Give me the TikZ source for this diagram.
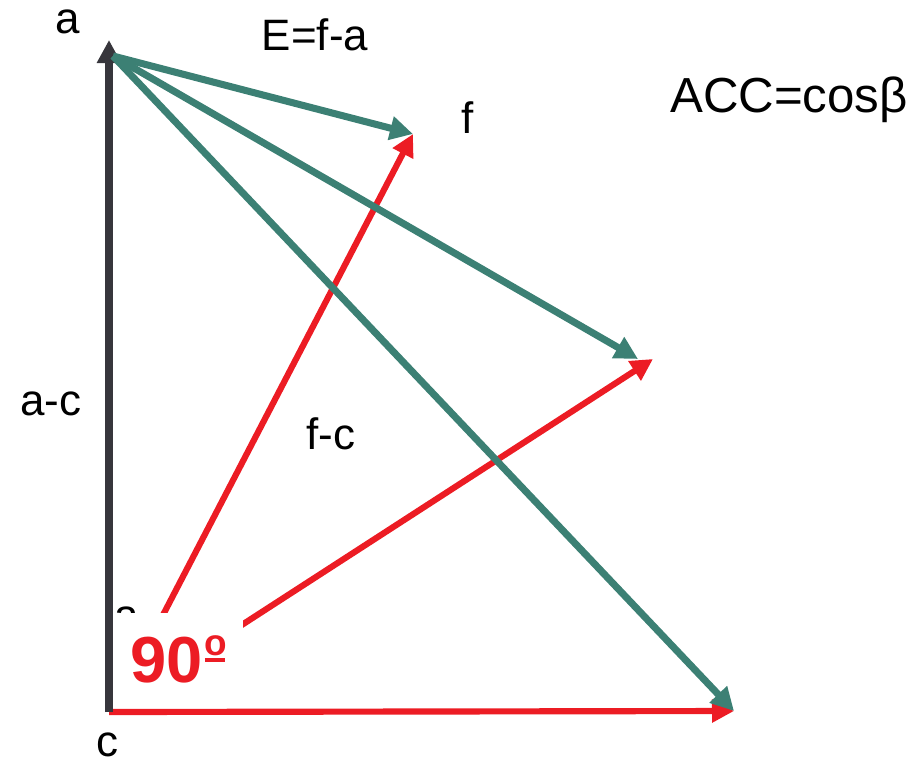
\documentclass[tikz,border=0pt]{standalone}
\usepackage{fontspec}
\setmainfont{Liberation Sans}
\usetikzlibrary{arrows.meta}
\definecolor{ink}{RGB}{55,54,60}
\definecolor{err}{RGB}{60,128,116}
\definecolor{vec}{RGB}{236,28,36}
\newcommand{\ordo}{\hspace{0.02cm}\rlap{\rule[0.2cm]{0.2cm}{0.04cm}}%
  \raisebox{0.27cm}{\fontsize{10.5}{11}\selectfont o}}
\tikzset{
  lbl/.style={inner sep=0pt,font=\fontsize{12.5}{14}\selectfont},
  axis/.style={ink,line width=2.2pt,-{Triangle[length=0.23cm,width=0.23cm]}},
  evec/.style={err,line width=2pt,-{Triangle[length=0.23cm,width=0.23cm]}},
  fvec/.style={vec,line width=1.75pt,-{Triangle[length=0.22cm,width=0.22cm]}},
  angle/.style={fill=white,text=vec,font=\fontsize{18.5}{20}\bfseries\selectfont,
    minimum width=1.28cm,minimum height=0.92cm,inner sep=0pt},
}

\begin{document}
\begin{tikzpicture}[x=0.01cm,y=-0.01cm]
  \useasboundingbox (0,0) rectangle (915,763);
  \coordinate (c) at (109,712);
  \coordinate (a) at (109,40);
  \coordinate (a0) at (113,56);
  \coordinate (f1) at (413,134);
  \coordinate (f2) at (638,359);
  \coordinate (f3) at (734,711);
  \coordinate (f2r) at (653,359);
  \coordinate (s1) at (150,640);
  \coordinate (s2) at (200,652);
  \draw[fvec] (c) -- (f3);
  \draw[fvec] (s1) -- (f1);
  \draw[fvec] (s2) -- (f2r);
  \node[lbl] (beta) at (127,619) {a};
  \node[angle] (ang) at (179,659) {\raisebox{-0.33cm}{90\ordo}};
  \draw[axis] (c) -- (a);
  \draw[evec] (a0) -- (f1);
  \draw[evec] (a0) -- (f2);
  \draw[evec] (a0) -- (f3);
  \node[lbl] (la) at (68,22) {a};
  \node[lbl] (lerr) at (315,35) {E=f-a};
  \node[lbl] (lf) at (468,118) {f};
  \node[lbl,font=\fontsize{14}{16}\selectfont] (lacc) at (789,100) {ACC=cosβ};
  \node[lbl] (lac) at (51,404) {a-c};
  \node[lbl] (lfc) at (331,434) {f-c};
  \node[lbl] (lc) at (107,745) {c};
\end{tikzpicture}
\end{document}
